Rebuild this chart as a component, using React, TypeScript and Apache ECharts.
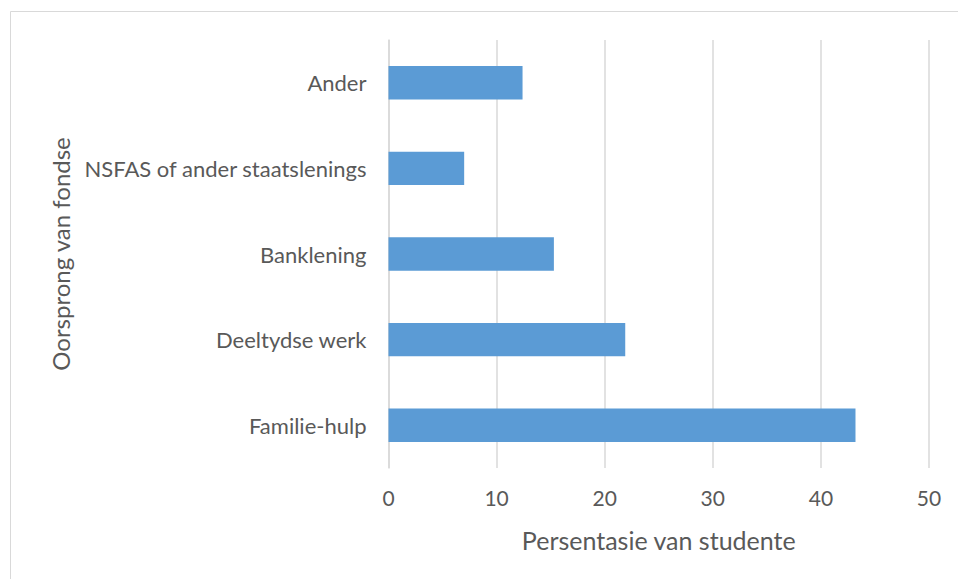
import React, { useEffect, useRef } from "react";
import * as echarts from "echarts";

const categories = ["Familie-hulp", "Deeltydse werk", "Banklening", "NSFAS of ander staatslenings", "Ander"];
const values = [43.2, 21.9, 15.3, 7.0, 12.4];
const xTicks = { min: 0, max: 50, interval: 10 };
const xTitle = "Persentasie van studente";
const yTitle = "Oorsprong van fondse";

const FONT = "Lato";
const TEXT = "#595959";

export default function App() {
  const ref = useRef<HTMLDivElement>(null);
  useEffect(() => {
    document.body.style.margin = "0";
    const chart = echarts.init(ref.current!, undefined, { renderer: "svg" });
    chart.setOption({
      animation: false,
      backgroundColor: "#ffffff",
      graphic: [
        {
          type: "rect",
          shape: { x: 10.5, y: 11.5, width: 1000, height: 1000 },
          style: { fill: "none", stroke: "#d9d9d9", lineWidth: 1 },
          silent: true,
        },
      ],
      grid: { left: 388.5, right: 29, top: 40, bottom: 111, containLabel: false },
      xAxis: {
        type: "value",
        min: xTicks.min,
        max: xTicks.max,
        interval: xTicks.interval,
        name: xTitle,
        nameLocation: "middle",
        nameGap: 59,
        nameTextStyle: { color: TEXT, fontFamily: FONT, fontSize: 25 },
        axisLine: { show: false },
        axisTick: { show: false },
        axisLabel: { color: TEXT, fontFamily: FONT, fontSize: 21, margin: 19 },
        splitLine: { show: true, lineStyle: { color: "#d9d9d9", width: 1.5 } },
      },
      yAxis: {
        type: "category",
        data: categories,
        name: yTitle,
        nameLocation: "middle",
        nameGap: 316,
        nameRotate: 90,
        nameTextStyle: { color: TEXT, fontFamily: FONT, fontSize: 24 },
        axisLine: { show: true, lineStyle: { color: "#d9d9d9", width: 1.5 } },
        axisTick: { show: false },
        axisLabel: { color: TEXT, fontFamily: FONT, fontSize: 22, margin: 22 },
      },
      series: [
        {
          type: "bar",
          data: values,
          barWidth: "39%",
          itemStyle: { color: "#5b9bd5" },
        },
      ],
    });
    return () => chart.dispose();
  }, []);
  return <div ref={ref} style={{ width: 958, height: 579 }} />;
}
